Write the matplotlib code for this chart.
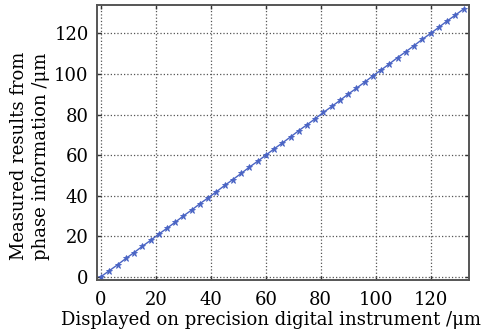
#!/usr/bin/env python3
"""
plot.py

Measured displacement from phase information vs. the precision instrument.
"""

import matplotlib
matplotlib.use('Agg')
import matplotlib.pyplot as plt

# Displayed on the precision digital instrument (um).
displayed = [0, 3, 6, 9, 12, 15, 18, 21, 24, 27, 30, 33, 36, 39, 42,
             45, 48, 51, 54, 57, 60, 63, 66, 69, 72, 75, 78, 81, 84, 87,
             90, 93, 96, 99, 102, 105, 108, 111, 114, 117, 120, 123, 126,
             129, 132]

# Measured from the phase information (um).
measured = [0.2, 3.1, 6.0, 9.1, 12.0, 15.1, 18.0, 21.1, 24.0, 27.0, 30.1,
            33.0, 36.1, 39.0, 42.0, 45.1, 48.0, 51.0, 54.1, 57.0, 60.0,
            63.1, 66.0, 69.0, 72.1, 75.0, 78.0, 81.1, 84.0, 87.0, 90.1,
            93.0, 96.0, 99.1, 102.0, 105.0, 108.1, 111.0, 114.0, 117.1,
            120.0, 123.0, 126.1, 129.0, 132.0]

xticks = [0, 20, 40, 60, 80, 100, 120]
yticks = [0, 20, 40, 60, 80, 100, 120]

plt.rcParams['font.family'] = ['DejaVu Serif']

fig = plt.figure(figsize=(4.84, 3.34), dpi=100)
ax = fig.add_axes([0.2004, 0.1617, 0.7686, 0.8233])

ax.plot(displayed, measured, '-*', color='#4a64c4', lw=1.0,
        markersize=5, markeredgewidth=0.6)

ax.set_xlim(-1.5, 134)
ax.set_ylim(-1.5, 134)
ax.set_xticks(xticks)
ax.set_yticks(yticks)
ax.grid(True, ls=':', color='#555555', lw=0.9)
ax.tick_params(direction='in', top=True, right=True, length=3,
               width=1.0, labelsize=13, color='#333333')
ax.tick_params(axis='x', pad=8)
ax.tick_params(axis='y', pad=6)
for sp in ax.spines.values():
    sp.set_color('#555555')
    sp.set_linewidth(1.4)

ax.set_xlabel('Displayed on precision digital instrument /\u03bcm',
              fontsize=13)
ax.xaxis.set_label_coords(0.468, -0.112)
ax.set_ylabel('Measured results from\nphase information /\u03bcm',
              fontsize=13, labelpad=3, linespacing=1.3)
ax.yaxis.label.set_y(0.45)

fig.savefig('out.png', dpi=100)
